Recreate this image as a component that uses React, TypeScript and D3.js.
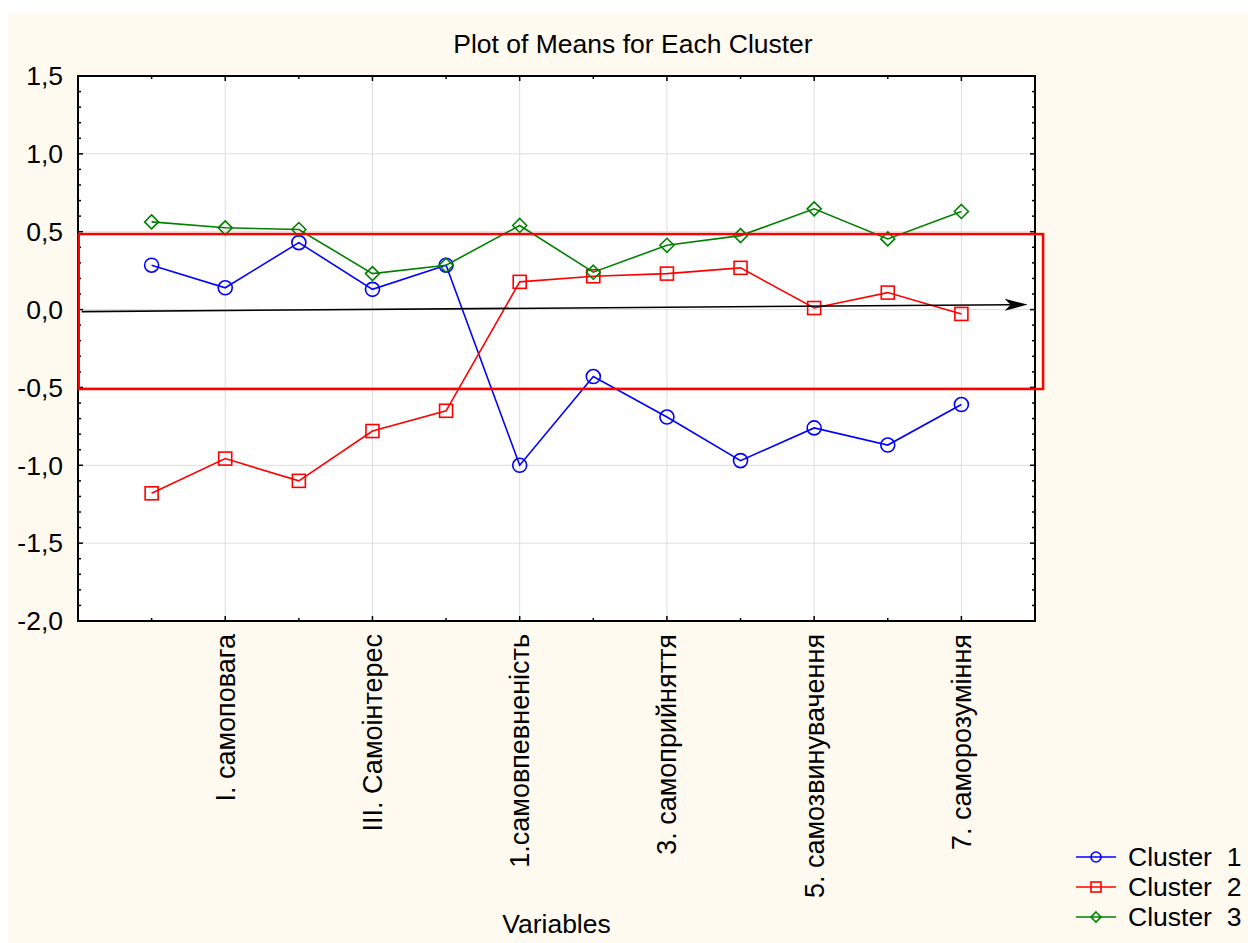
import React from "react";
import * as d3 from "d3";

const categories = [
  "S. інтегральне самоставлення",
  "I. самоповага",
  "II. аутосимпатія",
  "III. Самоінтерес",
  "IV. очікуване ставлення інших",
  "1.самовпевненість",
  "2. ставлення інших",
  "3. самоприйняття",
  "4. самокерівництво",
  "5. самозвинувачення",
  "6. самоінтерес",
  "7. саморозуміння",
];

const cluster1 = [0.285, 0.14, 0.43, 0.13, 0.285, -1.0, -0.43, -0.69, -0.97, -0.76, -0.87, -0.61];
const cluster2 = [-1.18, -0.957, -1.1, -0.78, -0.65, 0.178, 0.214, 0.231, 0.268, 0.01, 0.109, -0.028];
const cluster3 = [0.563, 0.525, 0.514, 0.231, 0.285, 0.54, 0.24, 0.413, 0.475, 0.647, 0.454, 0.63];

const seriesNames = ["Cluster  1", "Cluster  2", "Cluster  3"];
const seriesColors = ["#0000ff", "#ff0000", "#008000"];
const seriesShapes = ["circle", "square", "diamond"];

// annotation drawn on top of the chart (in data units: x = category slot, y = value)
const boxX = [0.01, 13.11];
const boxY = [0.485, -0.51];
const arrowFrom = [0.05, -0.013];
const arrowTo = [12.9, 0.032];

const W = 1248;
const H = 943;
const FONT = "Arial, 'Liberation Sans', sans-serif";
const FS = 26.5;
const left = 78, right = 1035, top = 76, bottom = 621;

const x = d3.scaleLinear().domain([0, categories.length + 1]).range([left, right]);
const y = d3.scaleLinear().domain([-2, 1.5]).range([bottom, top]);
const fmt = (v: number) => d3.format(".1f")(v).replace(".", ",").replace("\u2212", "-");

function Marker({ shape, cx, cy, color, s }: any) {
  if (shape === "circle")
    return <circle cx={cx} cy={cy} r={s} fill="none" stroke={color} strokeWidth={1.6} />;
  if (shape === "square")
    return <rect x={cx - s} y={cy - s} width={2 * s} height={2 * s} fill="none" stroke={color} strokeWidth={1.6} />;
  return (
    <path
      d={`M${cx},${cy - s}L${cx + s},${cy}L${cx},${cy + s}L${cx - s},${cy}Z`}
      fill="none"
      stroke={color}
      strokeWidth={1.6}
    />
  );
}

export default function App() {
  const allSeries = [cluster1, cluster2, cluster3];
  const line = d3
    .line<number>()
    .x((_, i) => x(i + 1))
    .y((d) => y(d));

  const majorY = d3.range(-2, 1.5001, 0.5);
  const minorY = d3.range(-2, 1.5001, 0.1);

  const ax1 = x(arrowFrom[0]), ay1 = y(arrowFrom[1]);
  const ax2 = x(arrowTo[0]), ay2 = y(arrowTo[1]);
  const ang = Math.atan2(ay2 - ay1, ax2 - ax1);
  const rot = (dx: number, dy: number) => [
    ax2 + dx * Math.cos(ang) - dy * Math.sin(ang),
    ay2 + dx * Math.sin(ang) + dy * Math.cos(ang),
  ];
  const h1 = rot(-23, -6), h2 = rot(-17, 0), h3 = rot(-23, 6);

  return (
    <svg
      width={W}
      height={H}
      style={{ position: "absolute", left: 0, top: 0, fontFamily: FONT }}
    >
      <rect x={0} y={0} width={W} height={H} fill="#ffffff" />
      <rect x={8} y={13} width={W - 8} height={H - 13} fill="#fffaf0" />
      <rect x={left} y={top} width={right - left} height={bottom - top} fill="#ffffff" />

      <text x={633} y={53} textAnchor="middle" fontSize={FS}>
        Plot of Means for Each Cluster
      </text>

      {/* grid */}
      {majorY.slice(1, -1).map((v) => (
        <line key={"gy" + v} x1={left} x2={right} y1={y(v)} y2={y(v)} stroke="#dddddd" strokeWidth={1} />
      ))}
      {categories.map((c, i) =>
        i % 2 === 1 ? (
          <line key={"gx" + i} x1={x(i + 1)} x2={x(i + 1)} y1={top} y2={bottom} stroke="#dddddd" strokeWidth={1} />
        ) : null
      )}

      {/* ticks */}
      {minorY.map((v, i) => {
        const major = i % 5 === 0;
        const len = major ? 5 : 3;
        return (
          <g key={"ty" + i}>
            <line x1={left} x2={left + len} y1={y(v)} y2={y(v)} stroke="#000" strokeWidth={1.5} />
            <line x1={right} x2={right - len} y1={y(v)} y2={y(v)} stroke="#000" strokeWidth={1.5} />
          </g>
        );
      })}
      {categories.map((c, i) => {
        const len = i % 2 === 1 ? 5 : 3;
        return (
          <g key={"tx" + i}>
            <line x1={x(i + 1)} x2={x(i + 1)} y1={bottom} y2={bottom - len} stroke="#000" strokeWidth={1.5} />
            <line x1={x(i + 1)} x2={x(i + 1)} y1={top} y2={top + len} stroke="#000" strokeWidth={1.5} />
          </g>
        );
      })}

      {/* frame */}
      <rect x={left} y={top} width={right - left} height={bottom - top} fill="none" stroke="#000" strokeWidth={2} />

      {/* y labels */}
      {majorY.map((v) => (
        <text key={"ly" + v} x={63} y={y(v)} dy="0.35em" textAnchor="end" fontSize={FS}>
          {fmt(v)}
        </text>
      ))}

      {/* x labels */}
      {categories.map((c, i) =>
        i % 2 === 1 ? (
          <text
            key={"lx" + i}
            transform={`translate(${x(i + 1) + 9.5},634) rotate(-90)`}
            textAnchor="end"
            fontSize={27}
          >
            {c}
          </text>
        ) : null
      )}

      <text x={(left + right) / 2} y={933} textAnchor="middle" fontSize={FS}>
        Variables
      </text>

      {/* series */}
      {allSeries.map((s, k) => (
        <g key={"s" + k}>
          <path d={line(s) as string} fill="none" stroke={seriesColors[k]} strokeWidth={1.6} />
          {s.map((v, i) => (
            <Marker
              key={i}
              shape={seriesShapes[k]}
              cx={x(i + 1)}
              cy={y(v)}
              color={seriesColors[k]}
              s={seriesShapes[k] === "square" ? 6.5 : 7}
            />
          ))}
        </g>
      ))}

      {/* annotation */}
      <rect
        x={x(boxX[0])}
        y={y(boxY[0])}
        width={x(boxX[1]) - x(boxX[0])}
        height={y(boxY[1]) - y(boxY[0])}
        fill="none"
        stroke="#ff0000"
        strokeWidth={2.5}
      />
      <line x1={ax1} y1={ay1} x2={h2[0]} y2={h2[1]} stroke="#000" strokeWidth={1.6} />
      <path d={`M${ax2},${ay2}L${h1[0]},${h1[1]}L${h2[0]},${h2[1]}L${h3[0]},${h3[1]}Z`} fill="#000" />

      {/* legend */}
      {seriesNames.map((n, k) => {
        const ly = 857 + k * 30;
        return (
          <g key={"lg" + k}>
            <line x1={1076} x2={1116} y1={ly} y2={ly} stroke={seriesColors[k]} strokeWidth={1.6} />
            <Marker shape={seriesShapes[k]} cx={1096} cy={ly} color={seriesColors[k]} s={5} />
            <text x={1128} y={ly} dy="0.35em" fontSize={FS} style={{ whiteSpace: "pre" }}>
              {n}
            </text>
          </g>
        );
      })}
    </svg>
  );
}
